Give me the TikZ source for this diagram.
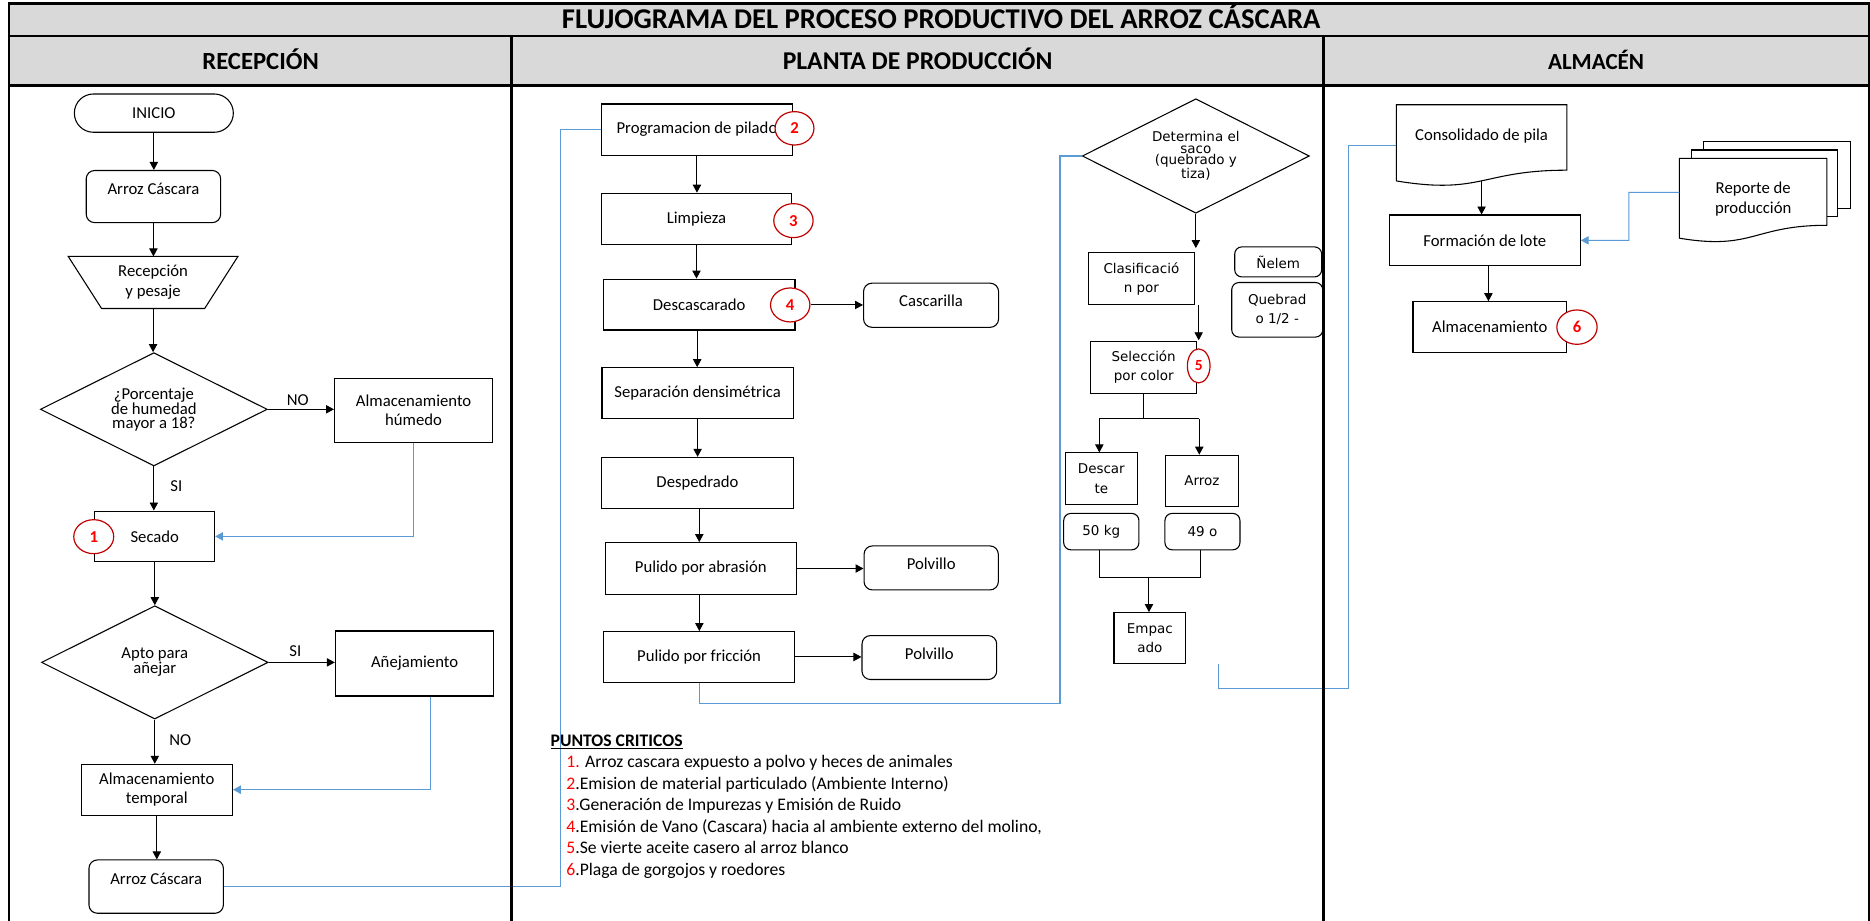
\documentclass[tikz,border=0pt]{standalone}
\usepackage{fontspec}
\setmainfont{Carlito}
\newfontfamily\verd{DejaVu Sans}
\usetikzlibrary{arrows.meta,shapes.geometric}
\newcommand{\myfs}[2]{\fontsize{#1}{#2}\selectfont}
\definecolor{hdr}{HTML}{D9D9D9}
\definecolor{lnblue}{HTML}{5B9BD5}
\definecolor{critred}{HTML}{C00000}
\definecolor{numred}{HTML}{FF0000}
\begin{document}
\begin{tikzpicture}[x=1pt,y=-1pt,
  box/.style={draw, line width=0.9pt, inner sep=0pt, align=center, font=\myfs{14}{16}},
  rbox/.style={box, rounded corners=7pt},
  vbox/.style={box, font=\verd\myfs{11.3}{16.2}},
  vrbox/.style={vbox, rounded corners=6pt},
  dia/.style={diamond, aspect=2, draw, line width=0.9pt, inner sep=0pt, align=center, font=\myfs{14}{11}},
  crit/.style={ellipse, draw=critred, line width=1pt, fill=white, inner sep=0pt, text=numred, font=\bfseries\myfs{14}{16}},
  arr/.style={line width=0.8pt, -{Triangle[length=6.7pt,width=7pt]}},
  conn/.style={line width=0.8pt},
  bl/.style={draw=lnblue, line width=0.85pt},
  blarr/.style={bl, -{Triangle[length=6.5pt,width=7pt]}},
  lbl/.style={inner sep=0pt, font=\myfs{14}{16}},
  pt/.style={anchor=base west, inner sep=0pt, font=\myfs{14.8}{16}},
  hd/.style={anchor=base, inner sep=0pt},
  frame/.style={line width=2.2pt},
  shapeline/.style={line width=0.9pt}
]
\useasboundingbox (0,0) rectangle (1568,772);
\fill[white] (0,0) rectangle (1568,772);
\fill[hdr] (7.5,2.8) rectangle (1566.8,71.5);

% title and headers
\node[anchor=base, inner sep=0pt, font=\bfseries\myfs{24}{26}] (title) at (789.3,24.3) {FLUJOGRAMA DEL PROCESO PRODUCTIVO DEL ARROZ CÁSCARA};
\node[hd, font=\bfseries\myfs{20.7}{22}] (hrec) at (218.5,58) {RECEPCIÓN};
\node[hd, font=\bfseries\myfs{21.5}{22}] (hpla) at (769.4,58) {PLANTA DE PRODUCCIÓN};
\node[hd, font=\bfseries\myfs{19.3}{22}] (halm) at (1338.3,58) {ALMACÉN};

% ---------------- RECEPCION ----------------
\node[box, rounded corners=16pt, minimum width=133.3pt, minimum height=32.1pt] (inicio) at (129,94.85) {INICIO};
\node[rbox, minimum width=112.7pt, text height=20.2pt, text depth=23.5pt, anchor=north] (arroz1) at (128.65,142.5) {Arroz Cáscara};
\node[inner sep=0pt, minimum width=141.9pt, minimum height=43.3pt] (trap) at (128.35,236.85) {};
\draw[shapeline] (trap.north west) -- (trap.north east) -- ([xshift=-27.9pt]trap.south east) -- ([xshift=28pt]trap.south west) -- cycle;
\node[inner sep=0pt, align=center, font=\myfs{14}{16.6}] (trapT) at (128.35,236.3) {Recepción\\y pesaje};
\node[dia, minimum width=190.3pt, minimum height=95pt] (dec1) at (129,343.2) {¿Porcentaje\\de humedad\\mayor a 18?};
\node[box, minimum width=132.6pt, minimum height=54.2pt] (humedo) at (346.8,344.1) {Almacenamiento\\húmedo};
\node[box, minimum width=100.4pt, minimum height=42.5pt] (secado) at (129.8,449.75) {Secado};
\node[crit, minimum width=33.5pt, minimum height=28.5pt] (c1) at (78.6,450) {1};
\node[dia, minimum width=190pt, minimum height=95pt] (dec2) at (129.8,555.4) {Apto para\\añejar};
\node[box, minimum width=132.9pt, minimum height=54.5pt] (anej) at (347.65,556.35) {Añejamiento};
\node[box, minimum width=127pt, minimum height=42.5pt] (temporal) at (131.5,662.15) {Almacenamiento\\temporal};
\node[rbox, minimum width=112.7pt, text height=20.6pt, text depth=24.1pt, anchor=north] (arroz2) at (130.95,720.6) {Arroz Cáscara};

\node[lbl] (no1) at (249.7,335.4) {NO};
\node[lbl] (si1) at (147.9,407.5) {SI};
\node[lbl] (si2) at (247.7,545.9) {SI};
\node[lbl] (no2) at (151.2,620.5) {NO};

\draw[arr] (inicio.south) -- (inicio.south |- arroz1.north);
\draw[arr] (arroz1.south) -- (arroz1.south |- trap.north);
\draw[arr] (trap.south) -- (trap.south |- dec1.north);
\draw[arr] (dec1.east) -- (dec1.east -| humedo.west);
\draw[arr] (dec1.south) -- (dec1.south |- secado.north);
\draw[blarr] (humedo.south) |- (secado.east);
\draw[arr] (secado.south) -- (secado.south |- dec2.north);
\draw[arr] (dec2.east) -- (dec2.east -| anej.west);
\draw[arr] (dec2.south) -- (dec2.south |- temporal.north);
\draw[blarr] ([xshift=13pt]anej.south) |- (temporal.east);
\draw[arr] (temporal.south) -- (temporal.south |- arroz2.north);

% ---------------- PLANTA ----------------
\node[box, minimum width=159.6pt, minimum height=42.8pt] (prog) at (584.4,108.6) {Programacion de pilado};
\node[crit, minimum width=32.6pt, minimum height=28pt] (c2) at (666.2,107.6) {2};
\node[box, minimum width=160pt, minimum height=42.9pt] (limp) at (584,183.45) {Limpieza};
\node[crit, minimum width=33pt, minimum height=28.5pt] (c3) at (665.3,185) {3};
\node[box, minimum width=160.6pt, minimum height=42.7pt] (desc) at (586.3,255.35) {Descascarado};
\node[crit, minimum width=33pt, minimum height=28.5pt] (c4) at (662.6,255.7) {4};
\node[rbox, minimum width=113.2pt, text height=19.3pt, text depth=17.7pt, anchor=north] (casc) at (780.7,237) {Cascarilla};
\node[box, minimum width=160.3pt, minimum height=42.7pt] (sep) at (584.95,329.65) {Separación densimétrica};
\node[box, minimum width=160.5pt, minimum height=43pt] (desp) at (584.85,405) {Despedrado};
\node[box, minimum width=160pt, minimum height=43.4pt] (abr) at (587.6,476.7) {Pulido por abrasión};
\node[rbox, minimum width=112.6pt, text height=19.8pt, text depth=17.1pt, anchor=north] (polv1) at (780.8,457.3) {Polvillo};
\node[box, minimum width=160.5pt, minimum height=42.5pt] (fric) at (586.15,550.85) {Pulido por fricción};
\node[rbox, minimum width=112.9pt, text height=20pt, text depth=16.8pt, anchor=north] (polv2) at (779.25,532.5) {Polvillo};

\draw[arr] (prog.south) -- (prog.south |- limp.north);
\draw[arr] (limp.south) -- (limp.south |- desc.north);
\draw[arr] ([xshift=-1.7pt]desc.south) -- ([xshift=-1.7pt]desc.south |- sep.north);
\draw[arr] (sep.south) -- (sep.south |- desp.north);
\draw[arr] ([xshift=1.5pt]desp.south) -- ([xshift=1.5pt]desp.south |- abr.north);
\draw[arr] ([xshift=-1.2pt]abr.south) -- ([xshift=-1.2pt]abr.south |- fric.north);
\draw[arr] (c4.east) -- (c4.east -| casc.west);
\draw[arr] (abr.east) -- (abr.east -| polv1.west);
\draw[arr] (fric.east) -- (fric.east -| polv2.west);

\draw[bl] (arroz2.east) -| (470,108.6) -- (prog.west);

\node[dia, minimum width=190.4pt, minimum height=96pt, font=\verd\myfs{11.3}{9.7}] (dec3) at (1002.7,130.8) {Determina el\\saco\\(quebrado y\\tiza)};
\draw[bl] (fric.south) -- (586.15,589.5) -| (888.8,130.8) -- (dec3.west);

\coordinate (a1e) at (1004.3,208);
\draw[arr] (dec3.south) -- (dec3.south |- a1e);
\node[vbox, minimum width=88.9pt, minimum height=43.4pt] (clas) at (957.05,233.7) {Clasificació\\n por};
\coordinate (a2s) at (1005.1,256);
\coordinate (a2e) at (1005.1,285.3);
\draw[arr] (a2s) -- (a2e);
\node[vbox, minimum width=88.9pt, minimum height=43.7pt] (sel) at (958.95,307.85) {Selección\\por color};
\node[crit, minimum width=19pt, minimum height=28.5pt, font=\bfseries\myfs{13}{14}] (c5) at (1005.1,306.8) {5};
\node[vrbox, minimum width=72.9pt, minimum height=25.2pt] (nelem) at (1071.75,219.6) {Ñelem};
\node[vrbox, minimum width=76.3pt, minimum height=45.7pt] (queb) at (1070.95,259.75) {Quebrad\\o 1/2 -};

\node[vbox, minimum width=60.3pt, minimum height=43.1pt] (descarte) at (923.45,401.35) {Descar\\te};
\node[vbox, minimum width=61.3pt, minimum height=42.9pt] (arrozb) at (1007.75,403.15) {Arroz};
\node[vrbox, minimum width=63.1pt, minimum height=30.5pt] (kg50) at (923.45,445.75) {50 kg};
\node[vrbox, minimum width=62.9pt, minimum height=30.5pt] (o49) at (1008.25,445.75) {49 o};
\node[vbox, minimum width=60.1pt, minimum height=42.7pt] (empac) at (964.15,535.05) {Empac\\ado};

\coordinate (sl) at (921.8,351.3);
\coordinate (sr) at (1005.6,351.3);
\draw[conn] (sel.south) -- (sel.south |- sl);
\draw[conn] (sl) -- (sr);
\draw[arr] (sl) -- (sl |- descarte.north);
\draw[arr] (sr) -- (sr |- arrozb.north);
\coordinate (ml) at (921.8,483.8);
\coordinate (mr) at (1006.8,483.8);
\coordinate (mc) at (963.4,483.8);
\draw[conn] (kg50.south -| ml) -- (ml) -- (mr) -- (o49.south -| mr);
\draw[arr] (mc) -- (mc |- empac.north);

% ---------------- ALMACEN ----------------
\node[inner sep=0pt, minimum width=142.6pt, minimum height=63.5pt] (consol) at (1242.3,119.75) {};
\draw[shapeline] (consol.north west) -- (consol.north east) -- ([yshift=9pt]consol.south east) .. controls ([yshift=9pt]consol.south) and ([yshift=-11.8pt]consol.south) .. (consol.south west) -- cycle;
\node[inner sep=0pt, font=\myfs{14}{16}] (consolT) at (1242.3,114) {Consolidado de pila};

\coordinate (eo) at (1022.1,556.4);
\draw[bl] (eo) -- (1022.1,577.6) -| (1130.3,122) -- ([yshift=-2.25pt]consol.west);

\node[box, minimum width=160.1pt, minimum height=42.5pt] (form) at (1245.05,201.55) {Formación de lote};
\node[box, minimum width=128.8pt, minimum height=42.4pt] (almac) at (1249.2,274.2) {Almacenamiento};
\node[crit, minimum width=33.8pt, minimum height=28.8pt] (c6) at (1322.3,274.3) {6};
\draw[arr] (consol.south) -- (consol.south |- form.north);
\draw[arr] ([xshift=3pt]form.south) -- ([xshift=3pt]form.south |- almac.north);

\node[inner sep=0pt, minimum width=123.3pt, minimum height=66.5pt] (rep) at (1469.95,166.25) {};
\draw[shapeline] (1428.3,125.8) -- (1428.3,118.8) -- (1551.5,118.8) -- (1551.5,174.7) -- (1540.9,174.7);
\draw[shapeline] (1418.6,133) -- (1418.6,125.8) -- (1540.9,125.8) -- (1540.9,181.7) -- (1531.6,181.7);
\draw[shapeline, fill=white] (rep.north west) -- (rep.north east) -- ([yshift=10.8pt]rep.south east) .. controls ([yshift=10.8pt]rep.south) and ([yshift=-10.4pt]rep.south) .. (rep.south west) -- cycle;
\node[inner sep=0pt, align=center, font=\myfs{14}{16.5}] (repT) at (1470.1,166.7) {Reporte de\\producción};
\draw[blarr] ([yshift=5pt]rep.west) -- (1365.7,161.3) |- (form.east);

% ---------------- PUNTOS CRITICOS ----------------
\node[anchor=base west, inner sep=0pt, font=\bfseries\myfs{14.8}{16}] (pc) at (461.5,626) {\underline{PUNTOS CRITICOS}};
\node[pt] (p1) at (474.7,643.4) {\textcolor{numred}{1.} Arroz cascara expuesto a polvo y heces de animales};
\node[pt] (p2) at (474.7,661.6) {\textcolor{numred}{2}.Emision de material particulado (Ambiente Interno)};
\node[pt] (p3) at (474.7,679.7) {\textcolor{numred}{3}.Generación de Impurezas y Emisión de Ruido};
\node[pt] (p4) at (474.7,697.9) {\textcolor{numred}{4}.Emisión de Vano (Cascara) hacia al ambiente externo del molino,};
\node[pt] (p5) at (474.7,715.5) {\textcolor{numred}{5}.Se vierte aceite casero al arroz blanco};
\node[pt] (p6) at (474.7,734.2) {\textcolor{numred}{6}.Plaga de gorgojos y roedores};

% ---------------- frame ----------------
\draw[line width=2pt] (6.6,2.8) -- (1567.7,2.8);
\draw[frame] (6.6,30.2) -- (1567.7,30.2);
\draw[frame] (6.6,71.5) -- (1567.7,71.5);
\draw[line width=1.8pt] (7.5,1.8) -- (7.5,775);
\draw[line width=1.8pt] (1566.8,1.8) -- (1566.8,775);
\draw[line width=2.3pt] (429,30.2) -- (429,775);
\draw[line width=2.3pt] (1109.7,30.2) -- (1109.7,775);
\end{tikzpicture}
\end{document}
